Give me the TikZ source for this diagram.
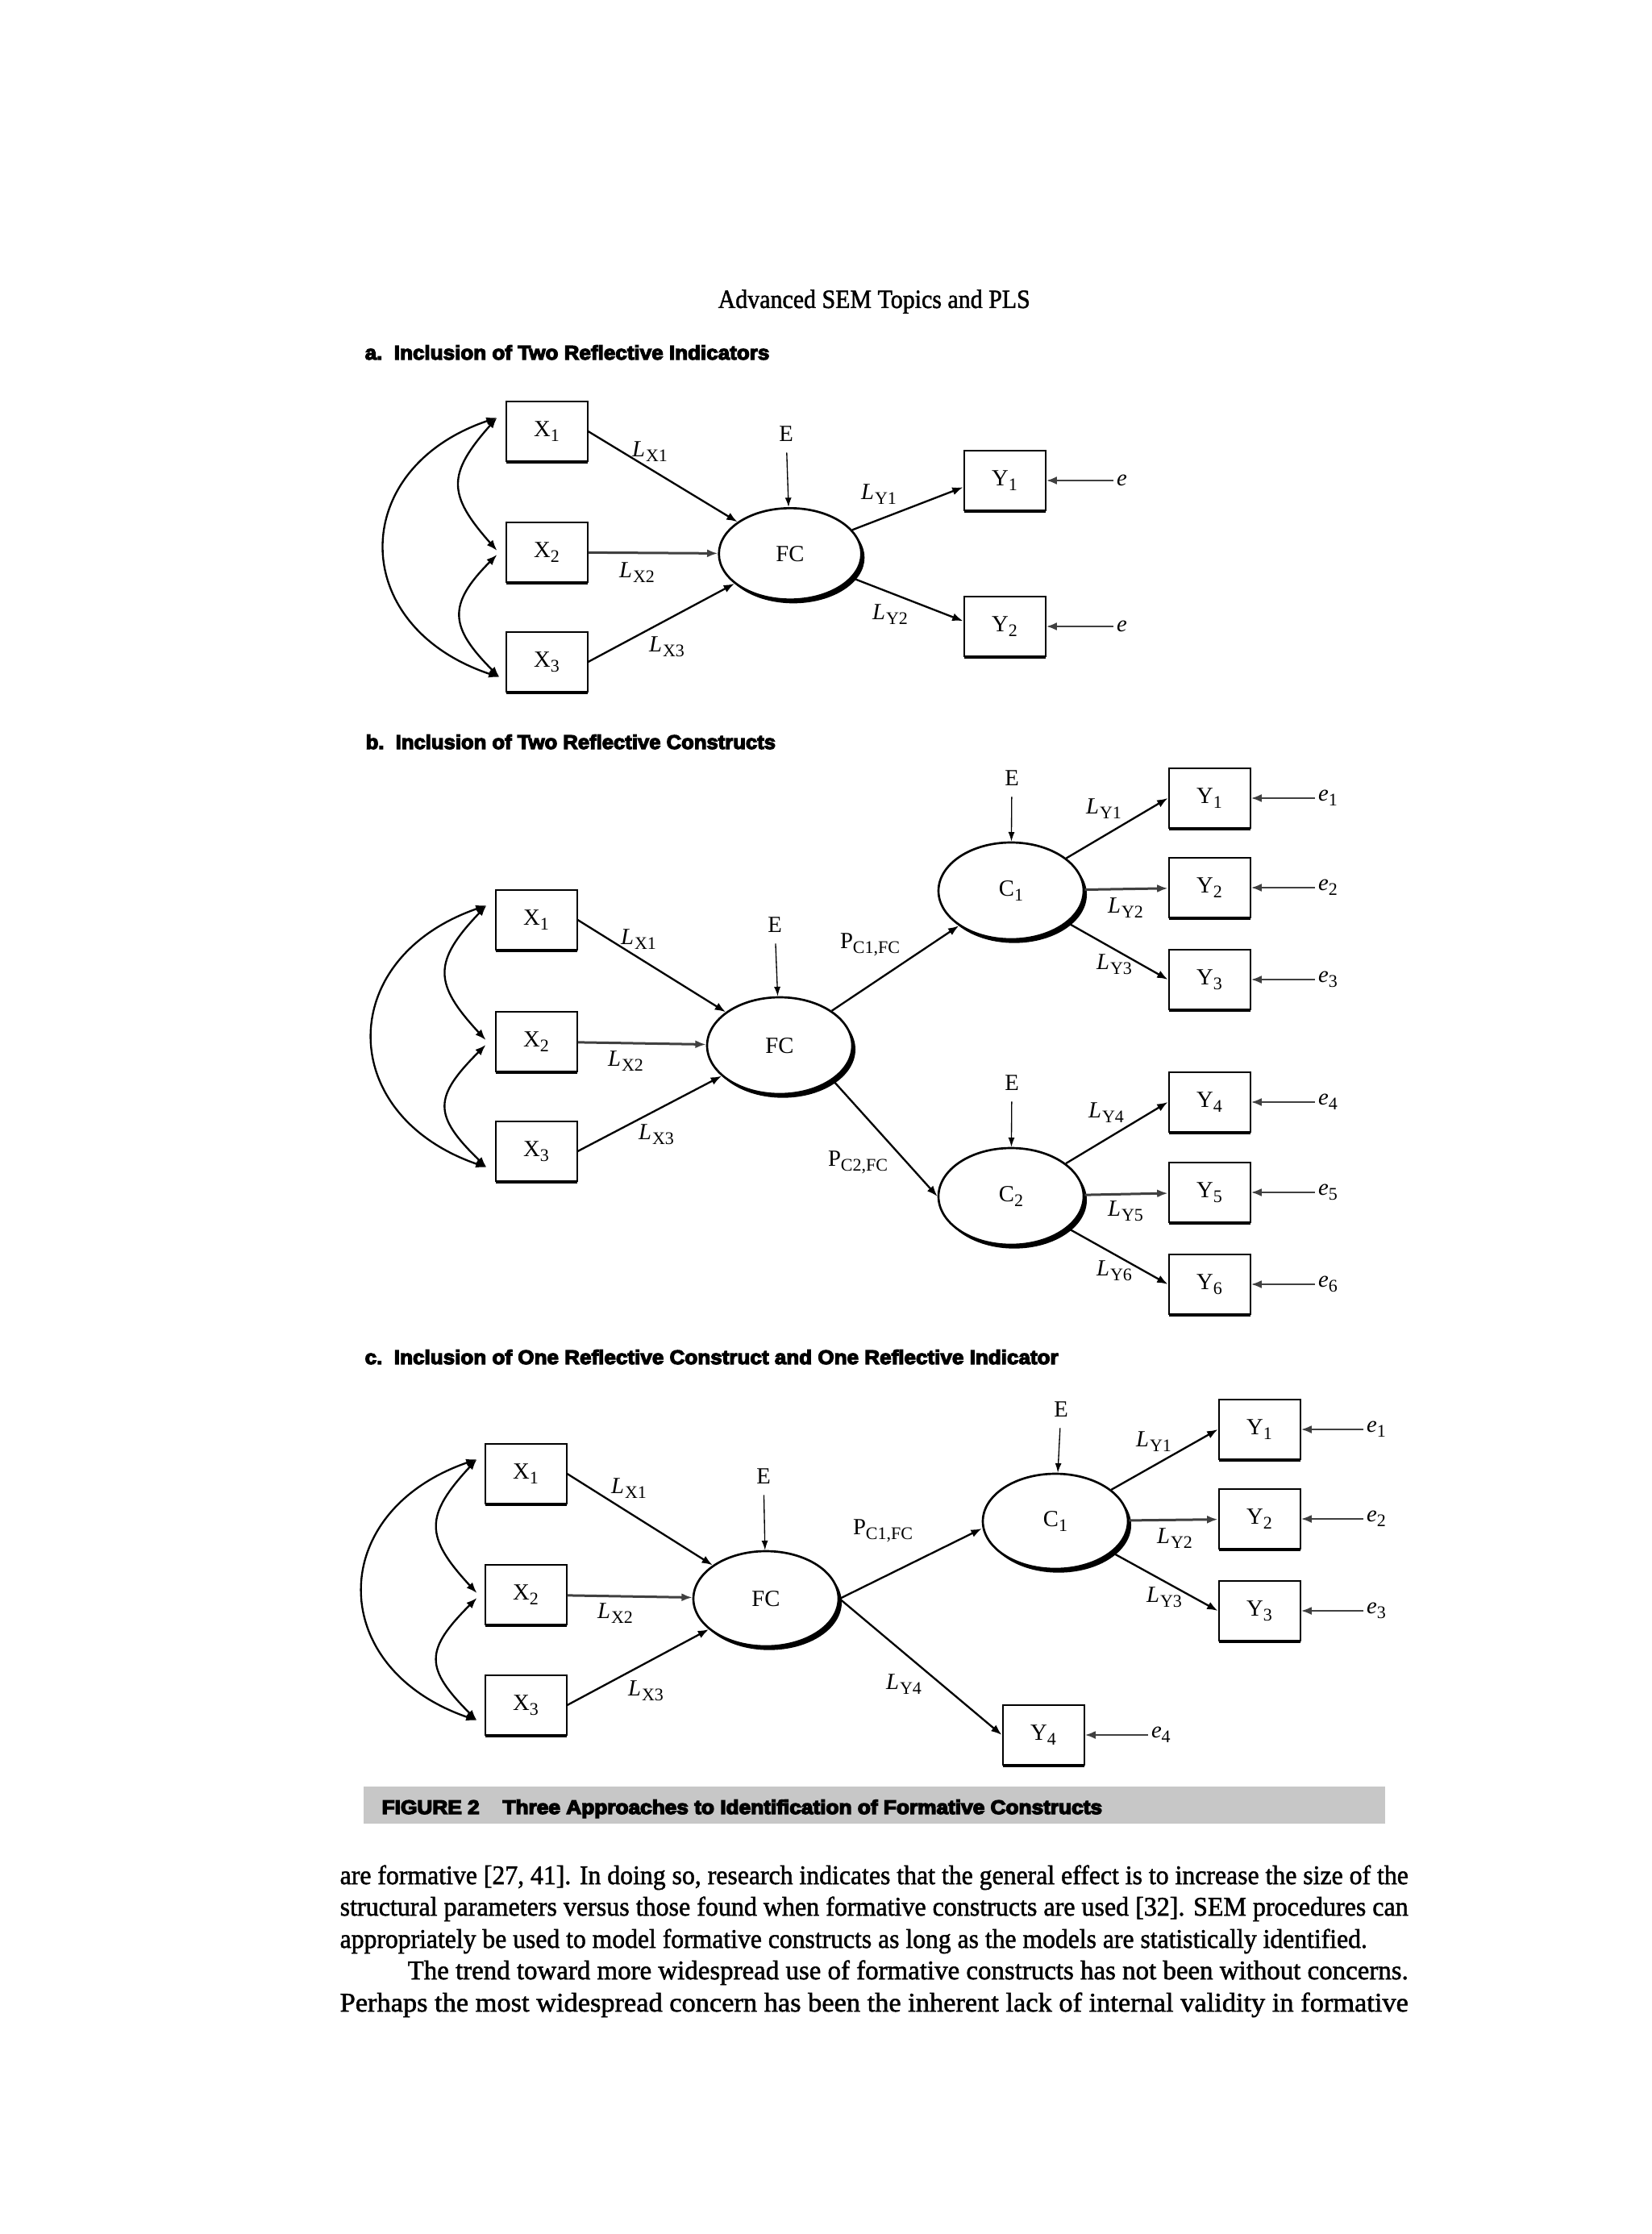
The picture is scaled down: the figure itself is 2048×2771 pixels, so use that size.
\documentclass[tikz,border=0pt]{standalone}
\usepackage{fontspec}
\setmainfont{Liberation Serif}
\newfontfamily\headfont{Liberation Sans}
\usepackage{graphicx}
\usetikzlibrary{arrows.meta,shapes.geometric,shadows}
\newcommand{\lowsub}[1]{\raisebox{-0.45ex}{\fontsize{6.6}{7}\selectfont #1}}
\newcommand{\lxy}[1]{\textit{L}\kern0.3pt\lowsub{#1}}
\newcommand{\pth}[1]{P\lowsub{#1}}
\newcommand{\err}[1]{\textit{e}\lowsub{#1}}
\newcommand{\fitw}[2]{\resizebox{#1}{\height}{#2}}
\newcommand{\inked}[2]{\special{pdf:literal direct 2 Tr #1 w}#2\special{pdf:literal direct 0 Tr}}

\begin{document}
\begin{tikzpicture}[x=0.3pt,y=-0.3pt,
  obs/.style={draw,line width=0.6pt,fill=white,minimum width=30.3pt,minimum height=22.2pt,inner sep=0pt,
    font=\fontsize{8.6}{9}\selectfont,drop shadow={shadow xshift=0pt,shadow yshift=-0.8pt,opacity=1,fill=black}},
  lat/.style={ellipse,draw,line width=0.8pt,fill=white,inner sep=0pt,minimum width=54pt,minimum height=36pt,
    font=\fontsize{8.6}{9}\selectfont,drop shadow={shadow xshift=1.2pt,shadow yshift=-1.4pt,opacity=1,fill=black}},
  lbl/.style={inner sep=1pt,font=\fontsize{8.6}{9}\selectfont},
  arr/.style={line width=0.7pt,-{Latex[length=4pt,width=3pt]}},
  harr/.style={black!75,line width=0.9pt,-{Latex[length=4pt,width=3pt]}},
  earr/.style={line width=0.4pt,-{Latex[length=3.5pt,width=2.4pt]},shorten <=3pt},
  rarr/.style={black!75,line width=0.8pt,-{Latex[length=4pt,width=3pt]}},
  cov/.style={line width=0.7pt,{Latex[length=4pt,width=3pt]}-{Latex[length=4pt,width=3pt]}},
  sec/.style={anchor=base west,inner sep=0pt,font=\headfont\bfseries\fontsize{7.4}{8}\selectfont},
  body/.style={anchor=base west,inner sep=0pt,font=\fontsize{10}{11}\selectfont}]
\useasboundingbox[fill=white] (0,0) rectangle (2048,2771);

% running head
\node[body,font=\fontsize{9.8}{11}\selectfont] (hdr) at (890,382) {\fitw{116.1pt}{\inked{0.15}{Advanced SEM Topics and PLS}}};

% ---- a: two reflective indicators
\node[sec] (seca) at (452,446) {\fitw{150.5pt}{\inked{0.35}{a.\ \ Inclusion of Two Reflective Indicators}}};
\node[obs] (xa1) at (678,535) {X\lowsub{1}};
\node[obs] (xa2) at (678,685) {X\lowsub{2}};
\node[obs] (xa3) at (678,821) {X\lowsub{3}};
\node[lat,minimum width=53pt,minimum height=34pt] (fca) at (980,687) {FC};
\node[obs] (ya1) at (1246,596) {Y\lowsub{1}};
\node[obs] (ya2) at (1246,777) {Y\lowsub{2}};
\node[lbl] (Ea) at (975,538) {E};
\node[lbl,anchor=west] (ea1) at (1381,596) {\textit{e}};
\node[lbl,anchor=west] (ea2) at (1381,777) {\textit{e}};
\draw[arr] (xa1.east) -- (fca);
\draw[harr] (xa2) -- (fca);
\draw[arr] (xa3.east) -- (fca);
\draw[arr] (fca) -- ([yshift=-2.5pt]ya1.west);
\draw[arr] (fca) -- ([yshift=2pt]ya2.west);
\draw[earr] (Ea) -- (fca);
\draw[rarr] (ea1) -- (ya1);
\draw[rarr] (ea2) -- (ya2);
% correlations among the X's
\draw[cov] ([shift={(-10,-17)}]xa1.west) .. controls +(-186,63) and +(-189,-63) .. ([shift={(-7,19)}]xa3.west);
\draw[cov] ([shift={(-10,-17)}]xa1.west) .. controls +(-62,70) and +(-62,-70) .. ([shift={(-10,-2)}]xa2.west);
\draw[cov] ([shift={(-10,3)}]xa2.west) .. controls +(-62,62) and +(-62,-62) .. ([shift={(-7,19)}]xa3.west);
\node[lbl] (lxa1) at (806,560) {\lxy{X1}};
\node[lbl] (lxa2) at (790,710) {\lxy{X2}};
\node[lbl] (lxa3) at (827,802) {\lxy{X3}};
\node[lbl] (lya1) at (1090,613) {\lxy{Y1}};
\node[lbl] (lya2) at (1104,762) {\lxy{Y2}};

% ---- b: two reflective constructs
\node[sec] (secb) at (453,929) {\fitw{152.5pt}{\inked{0.35}{b.\ \ Inclusion of Two Reflective Constructs}}};
\node[obs] (xb1) at (665,1141) {X\lowsub{1}};
\node[obs] (xb2) at (665,1292) {X\lowsub{2}};
\node[obs] (xb3) at (665,1428) {X\lowsub{3}};
\node[lat] (fcb) at (967,1297) {FC};
\node[lat] (c1b) at (1254,1105) {C\lowsub{1}};
\node[lat] (c2b) at (1254,1484) {C\lowsub{2}};
\node[lbl] (Efb) at (961,1147) {E};
\node[lbl] (Ec1b) at (1255,965) {E};
\node[lbl] (Ec2b) at (1255,1343) {E};
\foreach \i/\yy in {1/990,2/1101,3/1215,4/1367,5/1479,6/1593} {
  \node[obs] (yb\i) at (1500,\yy) {Y\lowsub{\i}};
  \node[lbl,anchor=west] (eb\i) at (1631,\yy) {\err{\i}};
  \draw[rarr] (eb\i) -- (yb\i);
}
\draw[arr] (xb1.east) -- (fcb);
\draw[harr] (xb2) -- (fcb);
\draw[arr] (xb3.east) -- (fcb);
\draw[arr] (fcb) -- (c1b);
\draw[arr] (fcb.-33) -- (c2b.west);
\draw[arr] (c1b) -- (yb1.west);
\draw[harr] (c1b) -- (yb2);
\draw[arr] (c1b) -- (yb3.west);
\draw[arr] (c2b) -- (yb4.west);
\draw[harr] (c2b) -- (yb5);
\draw[arr] (c2b) -- (yb6.west);
\draw[earr] (Efb) -- (fcb);
\draw[earr] (Ec1b) -- (c1b);
\draw[earr] (Ec2b) -- (c2b);
\draw[cov] ([shift={(-10,-18)}]xb1.west) .. controls +(-188,65) and +(-188,-65) .. ([shift={(-10,20)}]xb3.west);
\draw[cov] ([shift={(-10,-18)}]xb1.west) .. controls +(-67,70) and +(-65,-70) .. ([shift={(-11,-2)}]xb2.west);
\draw[cov] ([shift={(-11,4)}]xb2.west) .. controls +(-65,65) and +(-67,-65) .. ([shift={(-10,20)}]xb3.west);
\node[lbl] (lxb1) at (792,1165) {\lxy{X1}};
\node[lbl] (lxb2) at (776,1316) {\lxy{X2}};
\node[lbl] (lxb3) at (814,1407) {\lxy{X3}};
\node[lbl] (pc1b) at (1079,1172) {\pth{C1,FC}};
\node[lbl] (pc2b) at (1064,1442) {\pth{C2,FC}};
\node[lbl] (lyb1) at (1369,1003) {\lxy{Y1}};
\node[lbl] (lyb2) at (1396,1126) {\lxy{Y2}};
\node[lbl] (lyb3) at (1382,1196) {\lxy{Y3}};
\node[lbl] (lyb4) at (1372,1380) {\lxy{Y4}};
\node[lbl] (lyb5) at (1396,1502) {\lxy{Y5}};
\node[lbl] (lyb6) at (1382,1576) {\lxy{Y6}};

% ---- c: one reflective construct and one reflective indicator
\node[sec] (secc) at (452,1692) {\fitw{258pt}{\inked{0.35}{c.\ \ Inclusion of One Reflective Construct and One Reflective Indicator}}};
\node[obs] (xc1) at (652,1828) {X\lowsub{1}};
\node[obs] (xc2) at (652,1978) {X\lowsub{2}};
\node[obs] (xc3) at (652,2115) {X\lowsub{3}};
\node[lat,minimum height=35.4pt] (fcc) at (950,1983) {FC};
\node[lat,minimum height=35.4pt] (c1c) at (1309,1887) {C\lowsub{1}};
\node[lbl] (Efc) at (947,1831) {E};
\node[lbl] (Ec1c) at (1316,1748) {E};
\foreach \i/\yy in {1/1773,2/1884,3/1998} {
  \node[obs] (yc\i) at (1562,\yy) {Y\lowsub{\i}};
  \node[lbl,anchor=west] (ec\i) at (1691,\yy) {\err{\i}};
  \draw[rarr] (ec\i) -- (yc\i);
}
\node[obs] (yc4) at (1294,2152) {Y\lowsub{4}};
\node[lbl,anchor=west] (ec4) at (1424,2152) {\err{4}};
\draw[rarr] (ec4) -- (yc4);
\draw[arr] (xc1.east) -- (fcc);
\draw[harr] (xc2) -- (fcc);
\draw[arr] (xc3.east) -- (fcc);
\draw[arr] (fcc.east) -- ([yshift=-2.7pt]c1c.west);
\draw[arr] (fcc.east) -- (yc4.west);
\draw[arr] (c1c) -- (yc1.west);
\draw[harr] (c1c) -- (yc2);
\draw[arr] (c1c) -- (yc3.west);
\draw[earr] (Efc) -- (fcc);
\draw[earr] (Ec1c) -- (c1c);
\draw[cov] ([shift={(-9,-18)}]xc1.west) .. controls +(-188,65) and +(-188,-65) .. ([shift={(-9,19)}]xc3.west);
\draw[cov] ([shift={(-9,-18)}]xc1.west) .. controls +(-65,70) and +(-65,-70) .. ([shift={(-9,-2)}]xc2.west);
\draw[cov] ([shift={(-9,4)}]xc2.west) .. controls +(-65,65) and +(-65,-65) .. ([shift={(-9,19)}]xc3.west);
\node[lbl] (lxc1) at (780,1846) {\lxy{X1}};
\node[lbl] (lxc2) at (763,2001) {\lxy{X2}};
\node[lbl] (lxc3) at (801,2097) {\lxy{X3}};
\node[lbl] (pc1c) at (1095,1899) {\pth{C1,FC}};
\node[lbl] (lyc4) at (1121,2089) {\lxy{Y4}};
\node[lbl] (lyc1) at (1431,1788) {\lxy{Y1}};
\node[lbl] (lyc2) at (1457,1908) {\lxy{Y2}};
\node[lbl] (lyc3) at (1444,1981) {\lxy{Y3}};

% caption bar
\fill[black!22] (451,2216) rectangle (1718,2262);
\node[anchor=base west,inner sep=0pt,font=\headfont\bfseries\fontsize{7.3}{8}\selectfont] (cap) at (473,2250)
  {\fitw{268pt}{\inked{0.4}{FIGURE 2\hspace{1.1em}Three Approaches to Identification of Formative Constructs}}};

% running text
\node[body] (ln1) at (421,2337) {\fitw{397.5pt}{\inked{0.15}{are formative [27, 41]. In doing so, research indicates that the general effect is to increase the size of the}}};
\node[body] (ln2) at (421,2376) {\fitw{397.5pt}{\inked{0.15}{structural parameters versus those found when formative constructs are used [32]. SEM procedures can}}};
\node[body] (ln3) at (421,2416) {\fitw{382.2pt}{\inked{0.15}{appropriately be used to model formative constructs as long as the models are statistically identified.}}};
\node[body] (ln4) at (505,2455) {\fitw{372.3pt}{\inked{0.15}{The trend toward more widespread use of formative constructs has not been without concerns.}}};
\node[body] (ln5) at (421,2495) {\fitw{397.5pt}{\inked{0.15}{Perhaps the most widespread concern has been the inherent lack of internal validity in formative}}};
\end{tikzpicture}
\end{document}
